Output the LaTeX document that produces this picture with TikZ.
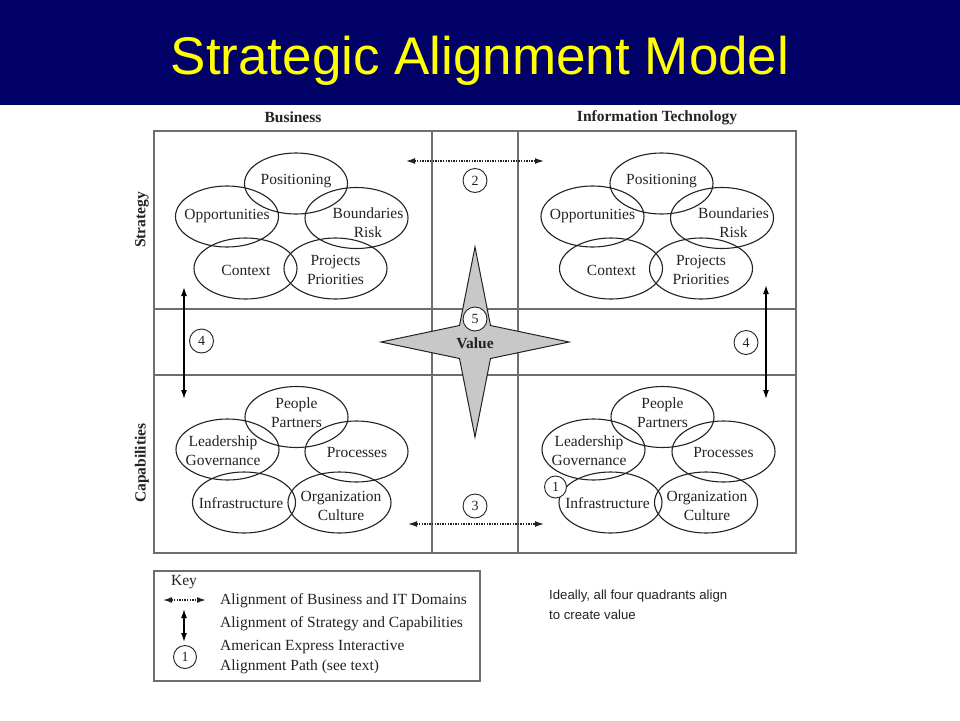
\documentclass[tikz,border=0pt]{standalone}
\usepackage{fontspec}
\setmainfont{Liberation Serif}
\newfontfamily\arialfont{Liberation Sans}
\usetikzlibrary{shapes.geometric,arrows.meta}
\definecolor{navyband}{RGB}{0,0,102}
\definecolor{titleyellow}{RGB}{255,255,0}
\definecolor{gridgray}{RGB}{110,110,110}
\definecolor{inkgray}{RGB}{35,35,35}
\definecolor{stargray}{RGB}{200,200,200}
\begin{document}
\begin{tikzpicture}[x=1pt,y=-1pt,
  ell/.style={ellipse,draw=inkgray,line width=1.1pt,minimum width=103pt,minimum height=61pt,inner sep=0pt},
  txt/.style={font=\fontsize{15.5}{19}\selectfont,text=inkgray,align=center,inner sep=0pt},
  hdr/.style={font=\fontsize{15.5}{18}\selectfont\bfseries,text=inkgray,inner sep=0pt},
  num/.style={circle,draw=inkgray,fill=white,line width=0.9pt,minimum size=23pt,inner sep=0pt,font=\fontsize{14}{16}\selectfont,text=inkgray},
  grid/.style={draw=gridgray,line width=1.1pt},
  dotarrow/.style={line width=1.3pt,dash pattern=on 1.4pt off 1.2pt,draw=inkgray,{Latex[length=9pt,width=6pt]}-{Latex[length=9pt,width=6pt]}},
  solidarrow/.style={line width=1.4pt,draw=black,{Latex[length=9pt,width=6pt]}-{Latex[length=9pt,width=6pt]}},
  keytxt/.style={font=\fontsize{15.5}{19}\selectfont,text=inkgray,anchor=west,inner sep=0pt}
]
\useasboundingbox (0,0) rectangle (960,720);
\fill[white] (0,0) rectangle (960,720);
% title band
\fill[navyband] (0,0) rectangle (960,105);
\node[font=\arialfont\fontsize{53}{58}\selectfont,text=titleyellow,anchor=base,inner sep=0pt] (title) at (480,74) {Strategic Alignment Model};

% headers
\node[hdr] (hbus) at (293,117.5) {Business};
\node[hdr] (hit) at (657,117.5) {Information Technology};
\node[hdr,rotate=90] (hstr) at (142,220) {Strategy};
\node[hdr,rotate=90] (hcap) at (142,463) {Capabilities};

% frame and grid
\draw[grid] (154,131) rectangle (796,553);
\draw[grid] (432,131) -- (432,553);
\draw[grid] (518,131) -- (518,553);
\draw[grid] (154,309) -- (796,309);
\draw[grid] (154,375) -- (796,375);

% top-left: business strategy
\node[ell] (bpos) at (296,183.5) {};
\node[ell] (bopp) at (227,216.5) {};
\node[ell] (bbnd) at (356.5,218) {};
\node[ell] (bctx) at (245.5,268.5) {};
\node[ell] (bprj) at (335.5,268.5) {};
\node[txt] (tbpos) at (296,181) {Positioning};
\node[txt] (tbopp) at (227,216) {Opportunities};
\node[txt] (tbbnd) at (368,222.5) {Boundaries\\Risk};
\node[txt] (tbctx) at (246,270) {Context};
\node[txt] (tbprj) at (335.5,269.5) {Projects\\Priorities};

% top-right: IT strategy
\node[ell] (ipos) at (661.5,183.5) {};
\node[ell] (iopp) at (592.5,216.5) {};
\node[ell] (ibnd) at (722,218) {};
\node[ell] (ictx) at (611,268.5) {};
\node[ell] (iprj) at (701,268.5) {};
\node[txt] (tipos) at (661.5,181) {Positioning};
\node[txt] (tiopp) at (592.5,216) {Opportunities};
\node[txt] (tibnd) at (733.5,222.5) {Boundaries\\Risk};
\node[txt] (tictx) at (611.5,270) {Context};
\node[txt] (tiprj) at (701,269.5) {Projects\\Priorities};

% bottom-left: business capabilities
\node[ell] (bppl) at (296.5,417) {};
\node[ell] (blead) at (227.5,449.5) {};
\node[ell] (bproc) at (356.5,451.5) {};
\node[ell] (binf) at (244,502.5) {};
\node[ell] (borg) at (339.5,502.5) {};
\node[txt] (tbppl) at (296.5,412.5) {People\\Partners};
\node[txt] (tblead) at (223,450.5) {Leadership\\Governance};
\node[txt] (tbproc) at (357,452) {Processes};
\node[txt] (tbinf) at (241,503) {Infrastructure};
\node[txt] (tborg) at (341,505.5) {Organization\\Culture};

% bottom-right: IT capabilities
\node[ell] (ippl) at (662.5,417) {};
\node[ell] (ilead) at (593.5,449.5) {};
\node[ell] (iproc) at (723.5,451.5) {};
\node[ell] (iinf) at (610.5,502.5) {};
\node[ell] (iorg) at (706,502.5) {};
\node[txt] (tippl) at (662.5,412.5) {People\\Partners};
\node[txt] (tilead) at (589,450.5) {Leadership\\Governance};
\node[txt] (tiproc) at (723.5,452) {Processes};
\node[txt] (tiinf) at (607.5,503) {Infrastructure};
\node[txt] (tiorg) at (707,505.5) {Organization\\Culture};
\node[num,minimum size=22pt] (n1) at (555.5,487) {1};

% star
\draw[draw=inkgray,line width=1pt,fill=stargray] (475,247) -- (490.5,325.5) -- (569,342) -- (490.5,358.5) -- (475,437) -- (459.5,358.5) -- (381,342) -- (459.5,325.5) -- cycle;
\node[num,minimum size=24pt] (n5) at (475,319) {5};
\node[font=\fontsize{15.5}{18}\selectfont\bfseries,text=inkgray,inner sep=0pt] (value) at (475,343) {Value};

% alignment arrows
\node[num,minimum size=24pt] (n2) at (475,180.5) {2};
\node[num,minimum size=24pt] (n3) at (475,506) {3};
\node[num,minimum size=24pt] (n4l) at (201.5,341) {4};
\node[num,minimum size=24pt] (n4r) at (746,342.5) {4};
\coordinate (dtl) at (406,161);
\coordinate (dtr) at (544,161);
\coordinate (dbl) at (408,524);
\coordinate (dbr) at (544,524);
\draw[dotarrow] (dtl) -- (dtr);
\draw[dotarrow] (dbl) -- (dbr);
\coordinate (vlt) at (184,287);
\coordinate (vlb) at (184,399);
\coordinate (vrt) at (766,285);
\coordinate (vrb) at (766,399);
\draw[solidarrow] (vlt) -- (vlb);
\draw[solidarrow] (vrt) -- (vrb);

% key box
\draw[grid] (154,571) rectangle (480,681);
\node[font=\fontsize{15.5}{18}\selectfont,text=inkgray,inner sep=0pt] (key) at (184,582) {Key};
\coordinate (kdl) at (163,600);
\coordinate (kdr) at (206,600);
\draw[dotarrow] (kdl) -- (kdr);
\coordinate (kvt) at (184,609);
\coordinate (kvb) at (184,642);
\draw[solidarrow] (kvt) -- (kvb);
\node[num,minimum size=23pt] (k1) at (185,657) {1};
\node[keytxt] (kt1) at (220,601) {Alignment of Business and IT Domains};
\node[keytxt] (kt2) at (220,624) {Alignment of Strategy and Capabilities};
\node[keytxt] (kt3) at (220,647) {American Express Interactive};
\node[keytxt] (kt4) at (220,667) {Alignment Path (see text)};

% note
\node[font=\arialfont\fontsize{13.2}{20}\selectfont,text=inkgray,anchor=north west,align=left,inner sep=0pt] (note) at (549,590) {Ideally, all four quadrants align\\to create value};
\end{tikzpicture}
\end{document}
